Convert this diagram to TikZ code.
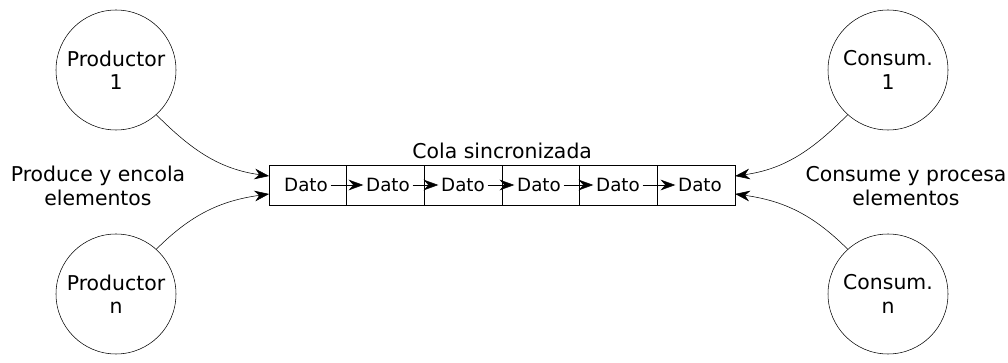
\documentclass[tikz,border=0pt]{standalone}
\usepackage{fontspec}
\setmainfont{DejaVu Sans}
\usetikzlibrary{arrows.meta,positioning}
\tikzset{
  basic/.style   = {font=\fontsize{15.3}{17.5}\selectfont, align=center},
  proceso/.style = {basic, draw, circle, thin, minimum size=90pt, inner sep=0pt},
  celda/.style   = {draw, rectangle, line width=0.6pt, minimum width=58.25pt,
                    minimum height=30pt, inner sep=0pt, outer sep=0pt},
  dato/.style    = {font=\fontsize{13.7}{16}\selectfont, inner sep=2pt},
  etiqueta/.style = {basic}
}

\begin{document}
\begin{tikzpicture}[x=0.75pt, y=-0.75pt, >={Stealth[length=11pt,width=8pt,inset=3.5pt]}]
\useasboundingbox (0,0) rectangle (1008,363);

% productores y consumidores
\node[proceso] (p1) at (116,70)  {Productor\\1};
\node[proceso] (pn) at (116,294) {Productor\\n};
\node[proceso] (k1) at (888,70)  {Consum.\\1};
\node[proceso] (kn) at (888,294) {Consum.\\n};

% la cola, celda a celda
\node[celda] (c1) at (308,185) {};
\foreach \i [count=\j from 2] in {1,...,5}
  \node[celda, right=0pt of c\i] (c\j) {};
\foreach \x [count=\i] in {306,388,463,539,618,700}
  \node[dato] (t\i) at (\x,185) {Dato};
\foreach \i [count=\j from 2] in {1,...,5}
  \draw[->] (t\i) -- (t\j);

\node[etiqueta, above=1pt of c3.north east] (cola) {Cola sincronizada};

% textos laterales
\node[etiqueta] (prod) at (98,186)  {Produce y encola\\elementos};
\node[etiqueta] (cons) at (906,186) {Consume y procesa\\elementos};

% flechas hacia y desde la cola
\draw[->] (p1.-48) to[out=-45, in=172] (c1.167);
\draw[->] (pn.48)  to[out=45, in=-172] (c1.193);
\draw[<-] (c6.13)  to[out=8, in=-135] (k1.-132);
\draw[<-] (c6.-13) to[out=-8, in=135] (kn.132);
\end{tikzpicture}
\end{document}
